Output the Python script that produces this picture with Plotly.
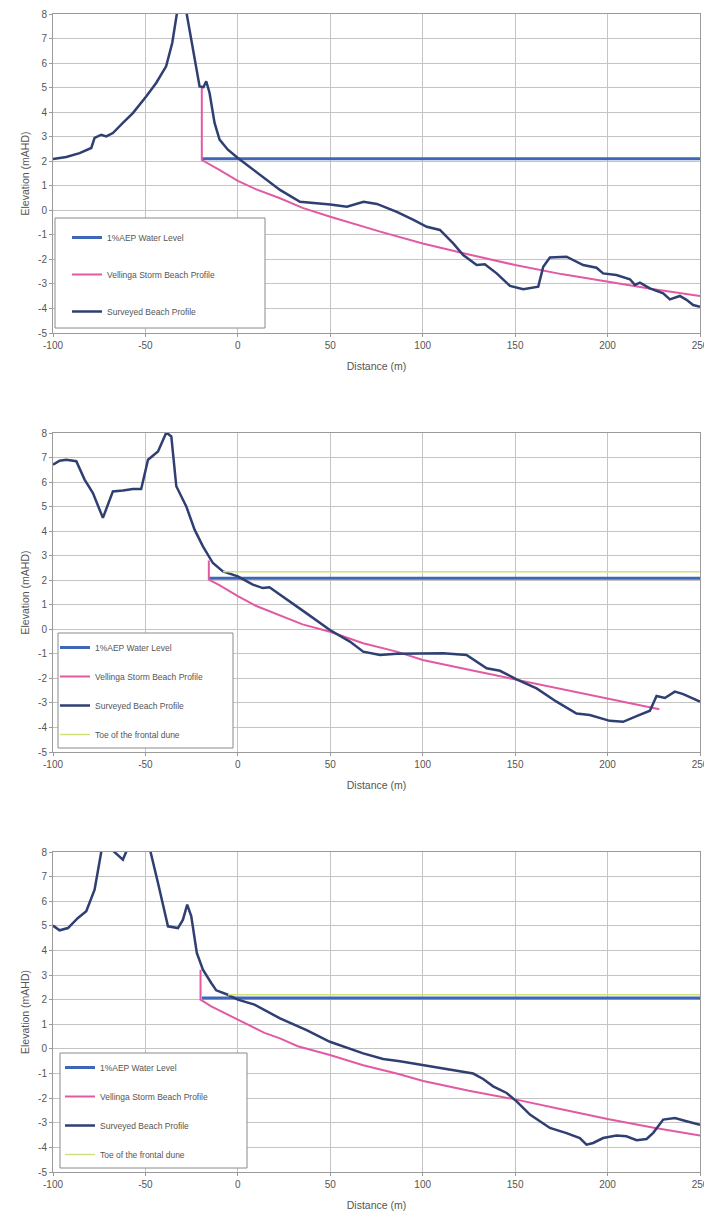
import plotly.graph_objects as go
from plotly.subplots import make_subplots

# ---------------- data ----------------
series_names = ["1%AEP Water Level", "Vellinga Storm Beach Profile",
                "Surveyed Beach Profile", "Toe of the frontal dune"]
x_ticks = [-100, -50, 0, 50, 100, 150, 200, 250]
x_ticklabels = ["-100", "-50", "0", "50", "100", "150", "200", "250"]
y_ticks = [-5, -4, -3, -2, -1, 0, 1, 2, 3, 4, 5, 6, 7, 8]
y_ticklabels = ["-5", "-4", "-3", "-2", "-1", "0", "1", "2", "3", "4", "5", "6", "7", "8"]

# Profile 1
s1_x = [-100, -92.8, -85.6, -79.3, -77.5, -73.9, -71.2, -67.6, -62.2, -56.8, -49.6, -44.2,
        -38.8, -35.5, -30.5, -22.5, -20.7, -18.6, -17.1, -15.3, -12.6, -9.9, -5.4, 0, 8.1,
        15.3, 22.8, 33.6, 40.8, 50, 59, 68, 75.2, 86, 95, 102.2, 109.3, 116.5, 121.9, 129.2,
        133.6, 140, 147.2, 154.4, 162.5, 165.2, 168.8, 177.8, 186.8, 194, 197.6, 204.8,
        212.1, 214.8, 217.5, 222.9, 230.1, 233.7, 239.1, 242.7, 246.3, 250]
s1_y = [2.09, 2.17, 2.33, 2.54, 2.95, 3.08, 3.01, 3.15, 3.56, 3.96, 4.64, 5.19,
        5.87, 6.82, 9.2, 5.87, 5.05, 5.02, 5.26, 4.78, 3.56, 2.88, 2.47, 2.13, 1.66,
        1.25, 0.83, 0.35, 0.31, 0.24, 0.15, 0.35, 0.26, -0.06, -0.39, -0.67, -0.80, -1.35, -1.82, -2.23,
        -2.20, -2.57, -3.08, -3.22, -3.11, -2.30, -1.92, -1.89, -2.23, -2.34, -2.57, -2.64,
        -2.81, -3.04, -2.95, -3.18, -3.38, -3.63, -3.49, -3.65, -3.86, -3.93]
v1_x = [-19.5, -19.5, -10, 0, 10, 22.8, 35, 50, 77, 100, 125, 150, 175, 200, 225, 250]
v1_y = [5.0, 2.05, 1.65, 1.2, 0.85, 0.49, 0.1, -0.26, -0.87, -1.35, -1.8, -2.23, -2.6, -2.91, -3.22, -3.49]
w1_x = [-19.5, 250]
w1_y = [2.1, 2.1]

# Profile 2
s2_x = [-100, -96.4, -92.8, -87.4, -82.9, -78.4, -73.0, -67.6, -62.2, -56.8, -52.3, -48.6,
        -43.2, -38.7, -36.0, -33.3, -27.9, -23.4, -18.9, -13.5, -8.1, 0, 8.1, 13.5, 17.1,
        24.3, 33.3, 37.2, 49.8, 60.6, 67.8, 76.9, 85.9, 98.5, 111.1, 123.7, 129.2, 134.6,
        141.8, 150.8, 161.6, 172.4, 183.2, 190.4, 201.2, 208.4, 215.7, 219.3, 222.9, 226.5,
        231, 236.4, 240.9, 250]
s2_y = [6.71, 6.87, 6.91, 6.85, 6.10, 5.55, 4.54, 5.62, 5.66, 5.72, 5.72, 6.91,
        7.25, 8.02, 7.86, 5.83, 5.01, 4.06, 3.38, 2.70, 2.36, 2.16, 1.82, 1.68, 1.71,
        1.34, 0.87, 0.65, -0.03, -0.50, -0.91, -1.05, -1.0, -0.98, -0.98, -1.05, -1.32, -1.59,
        -1.69, -2.04, -2.41, -2.95, -3.43, -3.49, -3.73, -3.77, -3.54, -3.43, -3.32, -2.72,
        -2.80, -2.54, -2.64, -2.95]
v2_x = [-15.7, -15.7, -10, 0, 10, 22.8, 35, 49.8, 67.8, 85.9, 100, 125, 150, 175, 200, 228]
v2_y = [2.8, 2.02, 1.8, 1.35, 0.95, 0.58, 0.2, -0.1, -0.57, -0.91, -1.25, -1.65, -2.04, -2.45, -2.82, -3.26]
w2_x = [-15.5, 250]
w2_y = [2.08, 2.08]
t2_x = [-8, 250]
t2_y = [2.35, 2.35]

# Profile 3
s3_x = [-100, -96.4, -91.9, -86.5, -82.0, -77.5, -72.5, -69, -62.2, -52, -43.2, -37.8,
        -32.4, -29.7, -27.4, -25.2, -22.2, -18.9, -14.4, -11.7, -5.4, 0, 9.0, 22.8, 37.2,
        49.8, 67.8, 78.6, 87.7, 100.3, 114.7, 127.3, 132.7, 138.1, 145.4, 150.8, 158, 168.8,
        177.8, 185.0, 188.6, 192.2, 197.6, 204.8, 210.2, 215.7, 221.1, 224.7, 230.1, 236.4,
        242.7, 250]
s3_y = [5.01, 4.82, 4.91, 5.32, 5.59, 6.47, 8.6, 8.15, 7.69, 9.5, 6.74, 4.98,
        4.91, 5.25, 5.86, 5.39, 3.90, 3.22, 2.68, 2.38, 2.20, 2.0, 1.80, 1.24, 0.76,
        0.29, -0.18, -0.41, -0.50, -0.65, -0.84, -1.0, -1.22, -1.52, -1.79, -2.13, -2.67, -3.21,
        -3.42, -3.62, -3.89, -3.82, -3.62, -3.52, -3.55, -3.71, -3.66, -3.41, -2.87, -2.81,
        -2.94, -3.08]
v3_x = [-20.2, -20.2, -14.4, 0, 14.4, 22.8, 32.4, 49.8, 67.8, 85.9, 100.3, 125, 150, 175, 200, 225, 250]
v3_y = [3.22, 2.0, 1.73, 1.19, 0.65, 0.43, 0.11, -0.25, -0.66, -1.0, -1.3, -1.7, -2.05, -2.45, -2.85, -3.2, -3.52]
w3_x = [-19.5, 250]
w3_y = [2.07, 2.07]
t3_x = [-5.4, 250]
t3_y = [2.2, 2.2]

# ---------------- styles / layout ----------------
C_WATER = "#3f67b8"
C_VELL = "#e25aa2"
C_SURV = "#2f3f72"
C_TOE = "#cfe37a"
FONT = "Liberation Sans, Arial, sans-serif"

# the page body has an 8px margin, so the figure is offset by 8px in the window
OFF = 8
PAGE_W, PAGE_H = 712, 1218
W, H = PAGE_W - OFF, PAGE_H - OFF
PLOT_L, PLOT_R = 53, 700          # page pixels of plot area left/right
ML, MR = PLOT_L - OFF, PAGE_W - PLOT_R
MT = 14 - OFF
MB = PAGE_H - 1172
PW, PH = W - ML - MR, H - MT - MB


def px_x(px):
    return (px - OFF - ML) / PW


def px_y(py):
    return (H - MB - (py - OFF)) / PH


fig = make_subplots(rows=3, cols=1)

panels = [
    (1, "legend", (w1_x, w1_y), (v1_x, v1_y), (s1_x, s1_y), None),
    (2, "legend2", (w2_x, w2_y), (v2_x, v2_y), (s2_x, s2_y), (t2_x, t2_y)),
    (3, "legend3", (w3_x, w3_y), (v3_x, v3_y), (s3_x, s3_y), (t3_x, t3_y)),
]

for row, leg, w, v, s, t in panels:
    fig.add_trace(go.Scatter(x=w[0], y=w[1], mode="lines", name=series_names[0],
                             line=dict(color=C_WATER, width=3), legend=leg,
                             legendgroup=f"w{row}"), row=row, col=1)
    fig.add_trace(go.Scatter(x=v[0], y=v[1], mode="lines", name=series_names[1],
                             line=dict(color=C_VELL, width=2), legend=leg,
                             legendgroup=f"v{row}"), row=row, col=1)
    fig.add_trace(go.Scatter(x=s[0], y=s[1], mode="lines", name=series_names[2],
                             line=dict(color=C_SURV, width=2.5), legend=leg,
                             legendgroup=f"s{row}"), row=row, col=1)
    if t is not None:
        fig.add_trace(go.Scatter(x=t[0], y=t[1], mode="lines", name=series_names[3],
                                 line=dict(color=C_TOE, width=1.5), legend=leg,
                                 legendgroup=f"t{row}"), row=row, col=1)

# plot areas in page pixel rows (top, bottom)
plot_rows = [(14, 333), (433, 752), (852, 1172)]
for i, (top, bot) in enumerate(plot_rows):
    sx = "xaxis" if i == 0 else f"xaxis{i+1}"
    sy = "yaxis" if i == 0 else f"yaxis{i+1}"
    fig.layout[sy].domain = [px_y(bot), px_y(top)]
    fig.layout[sx].domain = [0, 1]
    fig.layout[sx].update(
        range=[-100, 250], tickvals=x_ticks, ticktext=x_ticklabels,
        showgrid=True, gridcolor="#c4c4c4", gridwidth=1,
        showline=True, mirror=True, linecolor="#9a9a9a", linewidth=1, zeroline=False,
        ticks="outside", ticklen=3, tickcolor="#9a9a9a", automargin=False,
        tickfont=dict(size=10, color="#555555", family=FONT),
        title=dict(text="Distance (m)", font=dict(size=10.5, color="#555555", family=FONT), standoff=12),
    )
    fig.layout[sy].update(
        range=[-5, 8], tickvals=y_ticks, ticktext=y_ticklabels,
        showgrid=True, gridcolor="#c4c4c4", gridwidth=1,
        showline=True, mirror=True, linecolor="#9a9a9a", linewidth=1, zeroline=False,
        ticks="outside", ticklen=3, tickcolor="#9a9a9a", automargin=False,
        tickfont=dict(size=10, color="#555555", family=FONT),
        title=dict(text="Elevation (mAHD)", font=dict(size=10.5, color="#555555", family=FONT), standoff=6),
    )

# legend frames (page pixel boxes: left, top, right, bottom)
legend_boxes = [(55, 218, 265, 328), (58, 633, 233, 748), (60, 1053, 247, 1168)]
shapes = []
for (l, t_, r, b) in legend_boxes:
    shapes.append(dict(type="rect", xref="paper", yref="paper", layer="above",
                       x0=px_x(l), x1=px_x(r), y0=px_y(b), y1=px_y(t_),
                       fillcolor="white", line=dict(color="#8a8a8a", width=1)))

# legend anchor positions (left, top, group gap) in page pixels
legend_pos = [(67, 223, 18), (55, 633, 10), (60, 1053, 10)]
leg_common = dict(xanchor="left", yanchor="top", bgcolor="rgba(0,0,0,0)",
                  borderwidth=0, traceorder="grouped",
                  font=dict(size=8.5, color="#555555", family=FONT))
legends = {}
for i, (lx, ly, gap) in enumerate(legend_pos):
    key = "legend" if i == 0 else f"legend{i+1}"
    legends[key] = dict(x=px_x(lx), y=px_y(ly), tracegroupgap=gap, **leg_common)

fig.update_layout(
    width=W, height=H,
    margin=dict(l=ML, r=MR, t=MT, b=MB),
    paper_bgcolor="white", plot_bgcolor="white",
    showlegend=True, shapes=shapes,
    **legends,
)

fig.write_html("out.html")
